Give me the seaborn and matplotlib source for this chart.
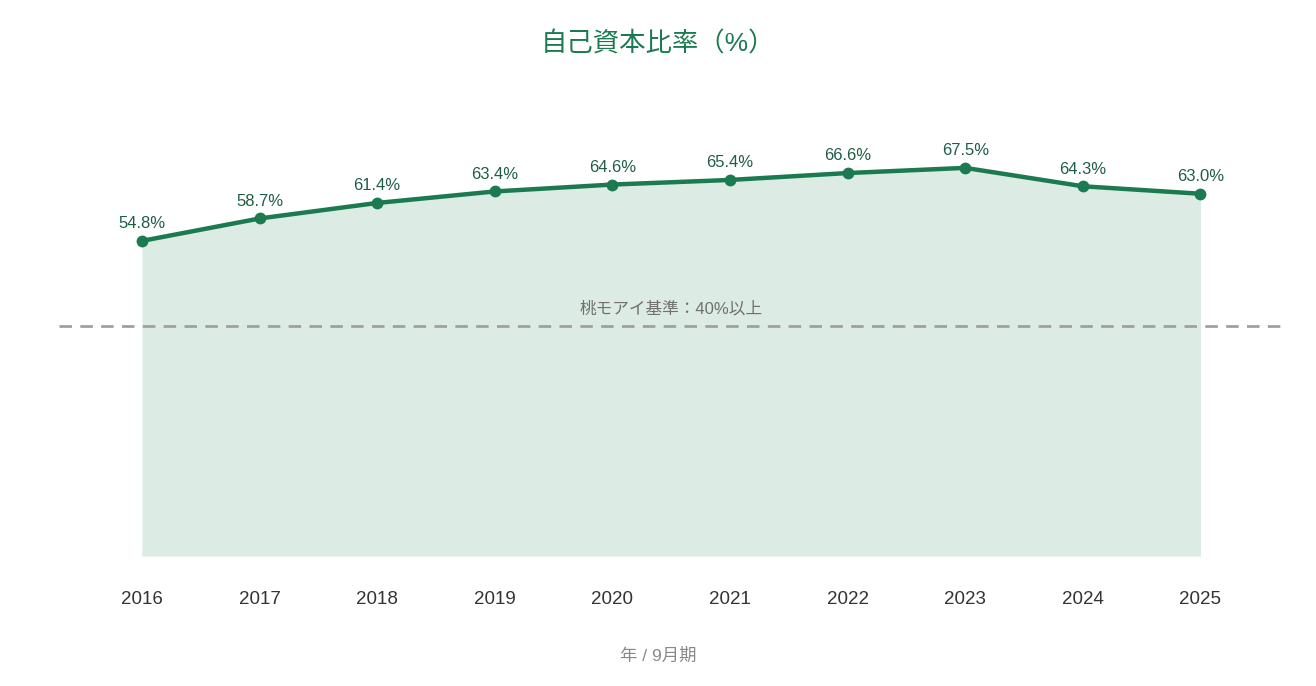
import matplotlib
matplotlib.use("Agg")
import matplotlib.pyplot as plt
import seaborn as sns
import pandas as pd
import numpy as np

years = ["2016", "2017", "2018", "2019", "2020", "2021", "2022", "2023", "2024", "2025"]
equity_ratio = [54.8, 58.7, 61.4, 63.4, 64.6, 65.4, 66.6, 67.5, 64.3, 63.0]
threshold = 40
threshold_label = "桃モアイ基準：40%以上"
title = "自己資本比率（%）"
xlabel = "年 / 9月期"

sns.set_theme(style="white")
fam = ['Liberation Sans', 'Noto Sans CJK JP', 'DejaVu Sans']
plt.rcParams['font.family'] = fam

green = "#1b7a50"
fill_c = "#dcebe3"

df = pd.DataFrame({"idx": np.arange(len(years)), "val": equity_ratio})

fig = plt.figure(figsize=(13.16, 6.86), dpi=100)
ax = fig.add_axes([59/1316, (686-556)/686, (1284-59)/1316, (556-96)/686])

ax.fill_between(df["idx"], df["val"], 0, color=fill_c, linewidth=0, zorder=1)
ax.axhline(threshold, color="#a0a0a0", linestyle=(0, (4.5, 3)), linewidth=2, zorder=2)
sns.lineplot(data=df, x="idx", y="val", ax=ax, color=green, linewidth=3.2,
             marker="o", markersize=8.5, markeredgewidth=0, zorder=3)

for i, v in zip(df["idx"], df["val"]):
    ax.annotate(f"{v:.1f}%", (i, v), xytext=(0, 7), textcoords="offset points",
                ha="center", va="bottom", fontsize=12, color="#1f5e45")

ax.text((len(years)-1)/2, threshold + 1.6, threshold_label, ha="center", va="bottom",
        fontsize=12, color="#707070")

ax.set_xlim(-0.705, len(years) - 1 + 0.71)
ax.set_ylim(0, 80)
ax.set_xticks(df["idx"])
ax.set_xticklabels(years, fontsize=13.5, color="#333333")
ax.tick_params(axis="x", length=0, pad=25)
ax.set_yticks([])
ax.set_xlabel("")
ax.set_ylabel("")
for s in ax.spines.values():
    s.set_visible(False)

fig.text(0.5, 1 - 44/686, title, ha="center", va="center", fontsize=19, color=green)
fig.text(0.5, 1 - 656/686, xlabel, ha="center", va="center", fontsize=12.5, color="#888888")

fig.savefig("out.png", dpi=100)
